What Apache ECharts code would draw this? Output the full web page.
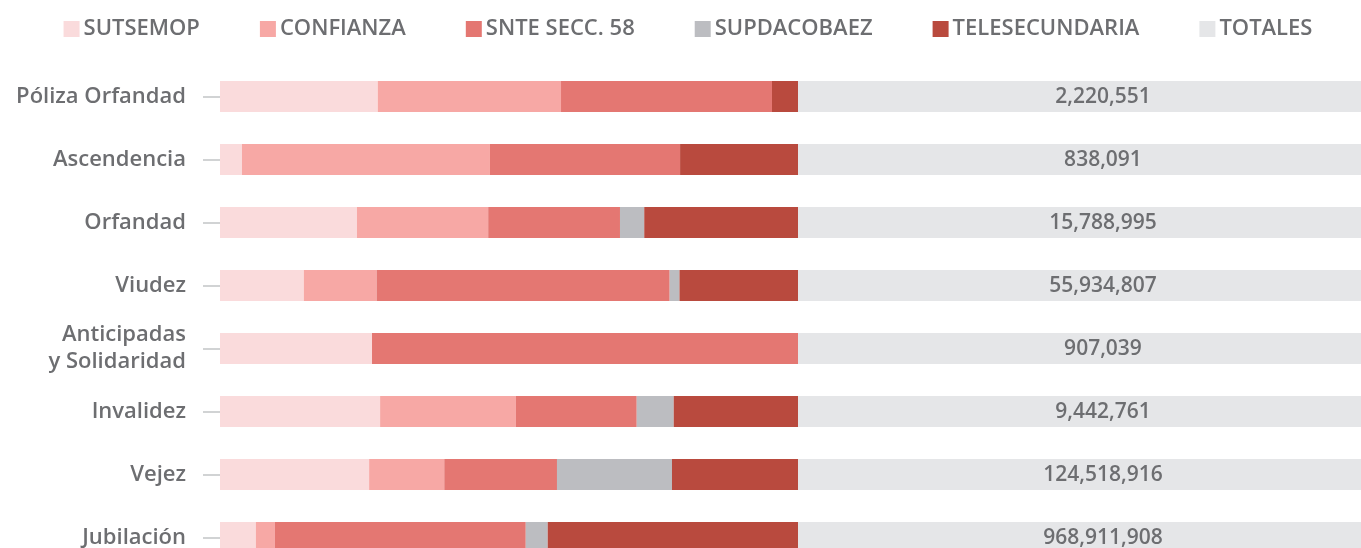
<!DOCTYPE html>
<html><head><meta charset="utf-8">
<script src="https://cdn.jsdelivr.net/npm/echarts@6/dist/echarts.min.js"></script>
<style>html,body{margin:0;padding:0;background:#fff;overflow:hidden;width:1361px;height:548px}#c{width:1376px;height:569px}</style>
</head><body><div id="c"></div>
<script>
const categories = ['Póliza Orfandad','Ascendencia','Orfandad','Viudez','Anticipadas\ny Solidaridad','Invalidez','Vejez','Jubilación'];
const sutsemop      = [27.3, 3.8, 23.7, 14.5, 26.3, 27.7, 25.8, 6.2];
const confianza     = [31.7, 42.9, 22.7, 12.6, 0, 23.5, 13.0, 3.3];
const snte58        = [36.5, 32.9, 22.8, 50.7, 73.7, 20.9, 19.5, 43.4];
const supdacobaez   = [0, 0, 4.2, 1.7, 0, 6.4, 19.9, 3.8];
const telesecundaria= [4.5, 20.4, 26.6, 20.5, 0, 21.5, 21.8, 43.3];
const totalesBar    = [100, 100, 100, 100, 100, 100, 100, 100];
const totalesLabels = ['2,220,551','838,091','15,788,995','55,934,807','907,039','9,442,761','124,518,916','968,911,908'];

const FONT = 'Open Sans';
const GREY = '#6d6e71';
const names = ['SUTSEMOP','CONFIANZA','SNTE SECC. 58','SUPDACOBAEZ','TELESECUNDARIA','TOTALES'];
const colors = ['#fadbdc','#f7a8a5','#e47772','#bcbdc1','#b94a3e','#e5e6e8'];
const datas = [sutsemop, confianza, snte58, supdacobaez, telesecundaria, totalesBar];

const series = names.map((n, i) => {
  const s = {
    name: n, type: 'bar', stack: 'all', barWidth: 31,
    data: datas[i], itemStyle: { color: colors[i] }, silent: true
  };
  if (n === 'TOTALES') {
    s.label = {
      show: true, position: 'inside', offset: [16, 1],
      formatter: p => totalesLabels[p.dataIndex],
      color: GREY, fontFamily: FONT, fontSize: 21, fontWeight: 600
    };
  }
  return s;
});

const chart = echarts.init(document.getElementById('c'), null, { renderer: 'canvas' });
chart.setOption({
  animation: false,
  color: colors,
  legend: {
    top: 13, left: 'center', itemWidth: 16, itemHeight: 16, itemGap: 60,
    icon: 'rect',
    textStyle: { color: GREY, fontFamily: FONT, fontSize: 22, fontWeight: 600, padding: [0,0,0,-1] },
    data: names
  },
  grid: { left: 220, right: 0, top: 65, bottom: 0, containLabel: false },
  xAxis: { type: 'value', min: 0, max: 200, show: false },
  yAxis: {
    type: 'category', data: categories, inverse: true, offset: 3,
    axisLine: { show: false },
    axisTick: { show: true, alignWithLabel: true, length: 17, lineStyle: { color: '#d1d3d4', width: 2 } },
    axisLabel: { margin: 31, color: GREY, fontFamily: FONT, fontSize: 22, fontWeight: 600, lineHeight: 27, align: 'right', padding: [3,0,0,0] }
  },
  series
});
</script></body></html>
